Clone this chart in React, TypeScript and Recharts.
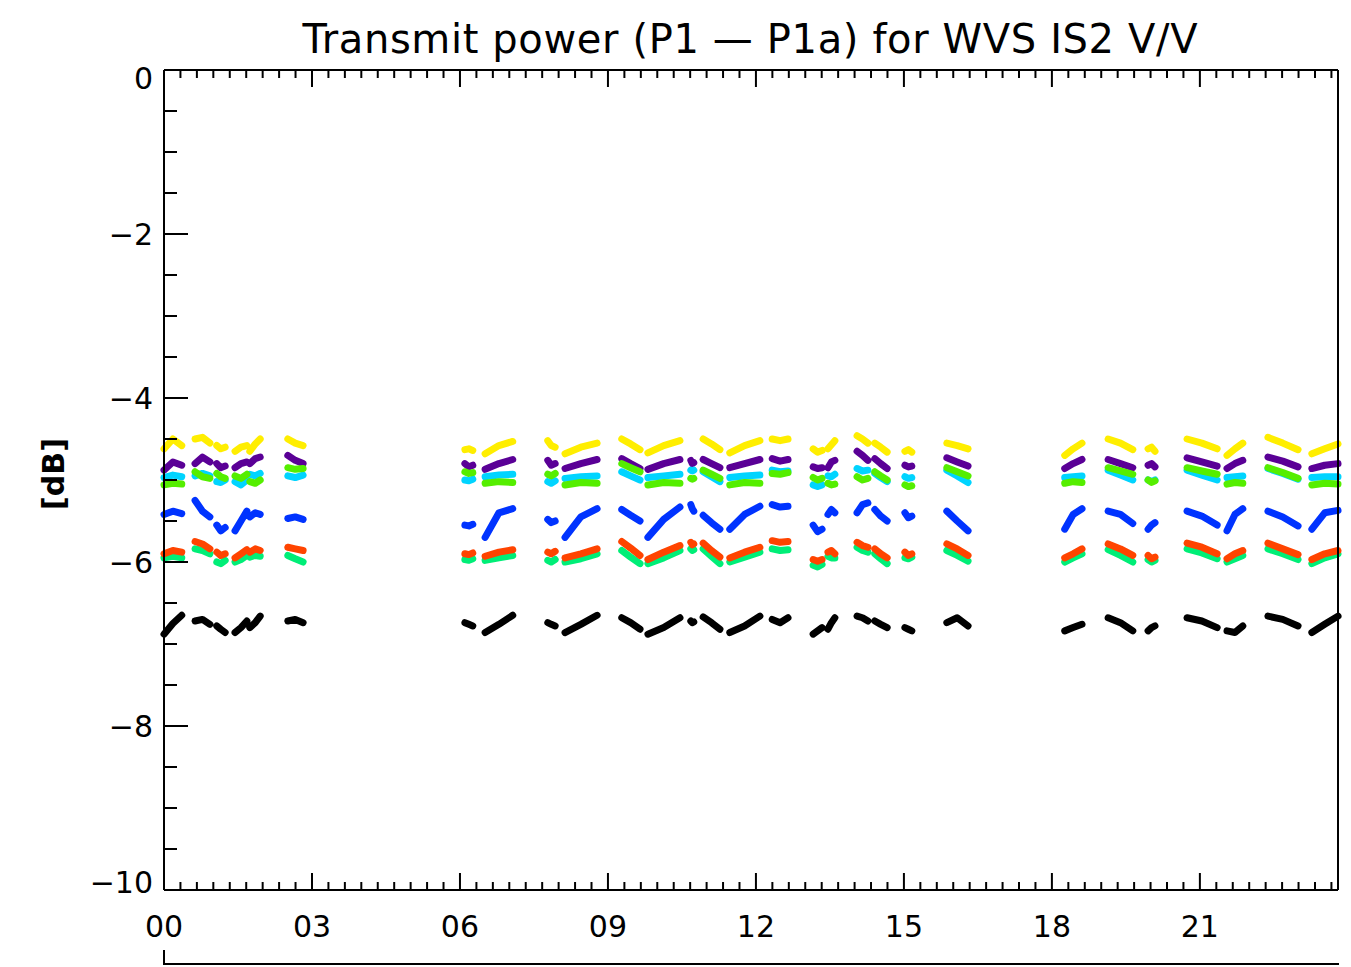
import React from "react";
import { LineChart, Line, XAxis, YAxis } from "recharts";

// hour of day, three samples per pass (start, middle, end)
const hours = [
  0.0, 0.18, 0.36, 0.63, 0.78, 0.93, 1.07, 1.15, 1.24, 1.44, 1.56, 1.68,
  1.74, 1.85, 1.95, 2.51, 2.66, 2.82, 6.1, 6.18, 6.26, 6.51, 6.79, 7.07,
  7.78, 7.85, 7.93, 8.13, 8.45, 8.78, 9.28, 9.46, 9.65, 9.81, 10.13, 10.46,
  10.68, 10.71, 10.74, 10.93, 11.1, 11.27, 11.47, 11.77, 12.08, 12.33, 12.49, 12.65,
  13.16, 13.25, 13.34, 13.46, 13.53, 13.6, 14.05, 14.16, 14.27, 14.41, 14.53, 14.66,
  15.02, 15.09, 15.16, 15.87, 16.08, 16.3, 18.26, 18.43, 18.61, 19.14, 19.39, 19.64,
  19.95, 20.02, 20.09, 20.74, 21.04, 21.35, 21.55, 21.71, 21.87, 22.38, 22.68, 22.99,
  23.27, 23.53, 23.8,
];

const yellow = [
  -4.62, -4.5, -4.58, -4.5, -4.48, -4.55, -4.58, -4.62, -4.6, -4.65, -4.6, -4.58,
  -4.65, -4.56, -4.5, -4.5, -4.55, -4.58, -4.63, -4.62, -4.64, -4.68, -4.58, -4.53,
  -4.52, -4.58, -4.6, -4.68, -4.6, -4.55, -4.5, -4.56, -4.63, -4.67, -4.58, -4.52,
  null, null, null, -4.5, -4.56, -4.63, -4.67, -4.58, -4.52, -4.5, -4.52, -4.5,
  -4.62, -4.66, -4.64, -4.62, -4.57, -4.52, -4.46, -4.5, -4.55, -4.55, -4.6, -4.66,
  -4.65, -4.63, -4.66, -4.55, -4.58, -4.62, -4.7, -4.62, -4.55, -4.5, -4.55, -4.63,
  -4.62, -4.6, -4.65, -4.5, -4.55, -4.62, -4.7, -4.62, -4.55, -4.48, -4.55, -4.63,
  -4.68, -4.62, -4.56,
];

const purple = [
  -4.88, -4.78, -4.82, -4.8, -4.72, -4.78, -4.8, -4.85, -4.83, -4.85, -4.8, -4.78,
  -4.8, -4.74, -4.72, -4.7, -4.76, -4.8, -4.8, -4.84, -4.82, -4.87, -4.8, -4.75,
  -4.76, -4.82, -4.8, -4.86, -4.8, -4.75, -4.74, -4.8, -4.86, -4.87, -4.8, -4.75,
  -4.76, -4.8, -4.79, -4.75, -4.8, -4.85, -4.85, -4.8, -4.75, -4.74, -4.77, -4.75,
  -4.84, -4.86, -4.85, -4.85, -4.78, -4.76, -4.65, -4.7, -4.76, -4.74, -4.8, -4.86,
  -4.82, -4.84, -4.83, -4.73, -4.78, -4.83, -4.86, -4.8, -4.75, -4.75, -4.8, -4.85,
  -4.82, -4.8, -4.84, -4.73, -4.78, -4.83, -4.86, -4.8, -4.76, -4.72, -4.77, -4.84,
  -4.86, -4.82, -4.8,
];

const cyan = [
  -4.97, -4.94, -4.96, -4.95, -4.92, -4.95, -5.02, -5.03, -5.0, -5.02, -5.06, -5.0,
  -4.93, -4.95, -4.92, -4.95, -4.97, -4.94, -5.0, -5.01, -4.99, -4.96, -4.94, -4.93,
  -5.02, -5.04, -5.01, -4.98, -4.96, -4.95, -4.9, -4.95, -5.0, -4.97, -4.95, -4.93,
  -4.88, -4.89, -4.88, -4.9, -4.96, -5.02, -4.97, -4.95, -4.94, -4.88, -4.9, -4.89,
  -5.06, -5.08, -5.06, -4.95, -4.96, -4.93, -4.86, -4.89, -4.88, -4.92, -4.97, -5.02,
  -4.96, -4.98, -4.97, -4.88, -4.95, -5.03, -4.97, -4.96, -4.95, -4.88, -4.94, -5.0,
  -5.0, -5.02, -5.0, -4.88, -4.94, -5.0, -4.97, -4.96, -4.95, -4.86, -4.92, -4.99,
  -4.97, -4.96, -4.96,
];

const green = [
  -5.06, -5.04, -5.05, -4.9, -4.96, -4.98, -4.92, -4.96, -4.98, -4.95, -4.98, -4.93,
  -5.02, -5.04, -5.0, -4.85, -4.87, -4.86, -4.9, -4.92, -4.91, -5.04, -5.02, -5.03,
  -4.93, -4.95, -4.92, -5.06, -5.03, -5.04, -4.8, -4.85, -4.9, -5.06, -5.03, -5.04,
  -4.98, -4.99, -4.98, -4.88, -4.93, -4.98, -5.06, -5.03, -5.04, -4.92, -4.93, -4.91,
  -4.97, -5.0, -4.98, -5.04, -5.06, -5.05, -4.96, -5.0, -4.98, -4.9, -4.95, -5.0,
  -5.06, -5.08, -5.07, -4.85, -4.9, -4.95, -5.04, -5.02, -5.03, -4.85, -4.89, -4.93,
  -5.0, -5.03, -5.01, -4.85, -4.89, -4.93, -5.05, -5.03, -5.04, -4.85, -4.91, -4.98,
  -5.06, -5.04, -5.05,
];

const blue = [
  -5.42, -5.38, -5.41, -5.25, -5.38, -5.45, -5.55, -5.62, -5.58, -5.62, -5.5, -5.38,
  -5.45, -5.4, -5.42, -5.47, -5.45, -5.48, -5.55, -5.56, -5.54, -5.7, -5.4, -5.35,
  -5.48, -5.52, -5.5, -5.7, -5.45, -5.35, -5.36, -5.43, -5.5, -5.7, -5.48, -5.33,
  -5.3, -5.35, -5.38, -5.43, -5.52, -5.6, -5.6, -5.42, -5.32, -5.3, -5.33, -5.32,
  -5.55, -5.63, -5.6, -5.42, -5.36, -5.4, -5.4, -5.3, -5.28, -5.36, -5.44, -5.5,
  -5.4, -5.46, -5.44, -5.38, -5.5, -5.62, -5.6, -5.42, -5.35, -5.38, -5.42, -5.53,
  -5.6, -5.55, -5.52, -5.38, -5.44, -5.55, -5.62, -5.42, -5.35, -5.38, -5.45, -5.56,
  -5.6, -5.4, -5.37,
];

const red = [
  -5.9, -5.86, -5.88, -5.75, -5.78, -5.84, -5.88, -5.92, -5.9, -5.95, -5.9, -5.85,
  -5.88, -5.84, -5.86, -5.82, -5.84, -5.86, -5.9, -5.91, -5.89, -5.93, -5.88, -5.85,
  -5.88, -5.9, -5.87, -5.95, -5.9, -5.84, -5.75, -5.83, -5.92, -5.97, -5.88, -5.8,
  -5.76, -5.79, -5.78, -5.77, -5.86, -5.94, -5.95, -5.88, -5.82, -5.74, -5.76, -5.75,
  -5.97, -5.99, -5.97, -5.88, -5.86, -5.9, -5.76, -5.8, -5.82, -5.84, -5.9, -5.95,
  -5.88, -5.92, -5.9, -5.78, -5.84, -5.92, -5.95, -5.9, -5.84, -5.78, -5.84, -5.92,
  -5.92, -5.96, -5.94, -5.77, -5.82, -5.9, -5.96, -5.9, -5.86, -5.77, -5.84, -5.91,
  -5.97, -5.9, -5.86,
];

const spring = [
  -5.95, -5.93, -5.95, -5.84, -5.86, -5.9, -6.0, -6.02, -5.98, -6.0, -5.97, -5.92,
  -5.94, -5.92, -5.93, -5.92, -5.96, -6.0, -5.97, -5.98, -5.96, -5.98, -5.95, -5.92,
  -5.98, -6.0, -5.97, -6.0, -5.96, -5.9, -5.86, -5.94, -6.02, -6.02, -5.95, -5.86,
  -5.84, -5.86, -5.85, -5.84, -5.93, -6.02, -6.0, -5.94, -5.88, -5.84, -5.86, -5.85,
  -6.04, -6.06, -6.03, -5.93, -5.95, -5.95, -5.82, -5.86, -5.88, -5.9, -5.96, -6.02,
  -5.95, -5.96, -5.94, -5.86, -5.92, -5.99, -6.0, -5.95, -5.9, -5.85, -5.92, -6.0,
  -5.97, -6.0, -5.98, -5.84, -5.89, -5.96, -6.0, -5.96, -5.92, -5.84, -5.9, -5.97,
  -6.02, -5.95, -5.9,
];

const black = [
  -6.88, -6.75, -6.65, -6.72, -6.7, -6.76, -6.78, -6.82, -6.86, -6.86, -6.8, -6.72,
  -6.8, -6.74, -6.66, -6.72, -6.7, -6.74, -6.74, -6.76, -6.78, -6.86, -6.76, -6.65,
  -6.74, -6.76, -6.78, -6.86, -6.76, -6.65, -6.68, -6.74, -6.82, -6.88, -6.8, -6.68,
  -6.72, -6.74, -6.73, -6.67, -6.74, -6.82, -6.86, -6.78, -6.66, -6.7, -6.74, -6.68,
  -6.88, -6.84, -6.8, -6.82, -6.74, -6.68, -6.66, -6.68, -6.72, -6.72, -6.76, -6.8,
  -6.8, -6.82, -6.84, -6.74, -6.68, -6.78, -6.84, -6.8, -6.76, -6.68, -6.74, -6.84,
  -6.84, -6.8, -6.78, -6.68, -6.72, -6.8, -6.84, -6.86, -6.78, -6.66, -6.7, -6.78,
  -6.86, -6.76, -6.66,
];

const xLabels = ["00", "03", "06", "09", "12", "15", "18", "21"];

const series = [
  { key: "yellow", values: yellow, color: "#ffee00" },
  { key: "purple", values: purple, color: "#5a0096" },
  { key: "cyan", values: cyan, color: "#00d4ff" },
  { key: "green", values: green, color: "#55ee00" },
  { key: "blue", values: blue, color: "#0033ff" },
  { key: "spring", values: spring, color: "#00ee77" },
  { key: "red", values: red, color: "#ff4400" },
  { key: "black", values: black, color: "#000000" },
];

// one row per sample, plus an empty row between passes so the lines break
const rows: any[] = [];
hours.forEach((h, i) => {
  const row: any = { h };
  series.forEach(s => (row[s.key] = s.values[i]));
  rows.push(row);
  if (i % 3 === 2 && i < hours.length - 1) {
    const gap: any = { h: (h + hours[i + 1]) / 2 };
    series.forEach(s => (gap[s.key] = null));
    rows.push(gap);
  }
});

const X_MAX = 23.8;
const xTicks = Array.from({ length: 72 }, (_, k) => k / 3);
const yTicks = Array.from({ length: 21 }, (_, k) => -k / 2);

const FONT = "'DejaVu Sans', sans-serif";
const isMajorX = (v: number) => Math.round(v * 3) % 9 === 0;
const isMajorY = (v: number) => Math.round(v * 2) % 4 === 0;

// plot frame: left 164, right 1338, top 70, bottom 890
const BottomTick = (props: any) => {
  const { x, y, payload } = props;
  const major = isMajorX(payload.value);
  return (
    <g>
      <line x1={x} y1={y} x2={x} y2={y - (major ? 17 : 8)} stroke="#000" strokeWidth={2} />
      {major && (
        <text x={x} y={y + 47} textAnchor="middle" fontFamily={FONT} fontSize={30} fill="#000">
          {xLabels[Math.round(payload.value / 3)]}
        </text>
      )}
    </g>
  );
};

const TopTick = (props: any) => {
  const { x, y, payload } = props;
  const major = isMajorX(payload.value);
  return <line x1={x} y1={y} x2={x} y2={y + (major ? 17 : 8)} stroke="#000" strokeWidth={2} />;
};

const LeftTick = (props: any) => {
  const { x, y, payload } = props;
  const v = payload.value;
  const major = isMajorY(v);
  const dy = v === 0 ? 8 : v === -10 ? -8 : 0;
  return (
    <g>
      <line x1={x} y1={y} x2={x + (major ? 24 : 13)} y2={y} stroke="#000" strokeWidth={2} />
      {major && (
        <text x={x - 11} y={y + dy} dy="0.36em" textAnchor="end" fontFamily={FONT} fontSize={30} fill="#000">
          {v === 0 ? "0" : "\u2212" + Math.abs(v)}
        </text>
      )}
    </g>
  );
};

const RightTick = (props: any) => {
  const { x, y, payload } = props;
  const major = isMajorY(payload.value);
  return <line x1={x} y1={y} x2={x - (major ? 24 : 13)} y2={y} stroke="#000" strokeWidth={2} />;
};

const axisLine = { stroke: "#000", strokeWidth: 2 };

export default function App() {
  return (
    <div style={{ position: "absolute", left: 0, top: 0, width: 1351, height: 967, background: "#fff" }}>
      <LineChart width={1351} height={967} data={rows} margin={{ top: 60, right: 3, bottom: 27, left: 104 }}>
        <XAxis
          dataKey="h"
          type="number"
          domain={[0, X_MAX]}
          ticks={xTicks}
          interval={0}
          height={50}
          tickSize={0}
          tickMargin={0}
          tickLine={false}
          axisLine={axisLine}
          tick={BottomTick}
        />
        <XAxis
          xAxisId="top"
          orientation="top"
          dataKey="h"
          type="number"
          domain={[0, X_MAX]}
          ticks={xTicks}
          interval={0}
          height={10}
          tickSize={0}
          tickMargin={0}
          tickLine={false}
          axisLine={axisLine}
          tick={TopTick}
        />
        <YAxis
          type="number"
          domain={[-10, 0]}
          ticks={yTicks}
          interval={0}
          width={60}
          tickSize={0}
          tickMargin={0}
          tickLine={false}
          axisLine={axisLine}
          tick={LeftTick}
        />
        <YAxis
          yAxisId="right"
          orientation="right"
          type="number"
          domain={[-10, 0]}
          ticks={yTicks}
          interval={0}
          width={10}
          tickSize={0}
          tickMargin={0}
          tickLine={false}
          axisLine={axisLine}
          tick={RightTick}
        />
        {series.map(s => (
          <Line
            key={s.key}
            dataKey={s.key}
            type="linear"
            stroke={s.color}
            strokeWidth={7}
            strokeLinejoin="round"
            strokeLinecap="round"
            dot={false}
            activeDot={false}
            isAnimationActive={false}
          />
        ))}
      </LineChart>

      <svg width={1351} height={967} style={{ position: "absolute", left: 0, top: 0, pointerEvents: "none" }}>
        <text
          x={750}
          y={53}
          textAnchor="middle"
          fontFamily={FONT}
          fontSize={40}
          textLength={895}
          lengthAdjust="spacing"
          fill="#000"
        >
          Transmit power (P1 {"\u2014"} P1a) for WVS IS2 V/V
        </text>
        <text
          transform="translate(64,474) rotate(-90)"
          textAnchor="middle"
          fontFamily={FONT}
          fontSize={30}
          fontWeight="bold"
          fill="#000"
        >
          [dB]
        </text>
        <polyline points="164,950 164,964 1339,964" fill="none" stroke="#000" strokeWidth={2} />
      </svg>
    </div>
  );
}
